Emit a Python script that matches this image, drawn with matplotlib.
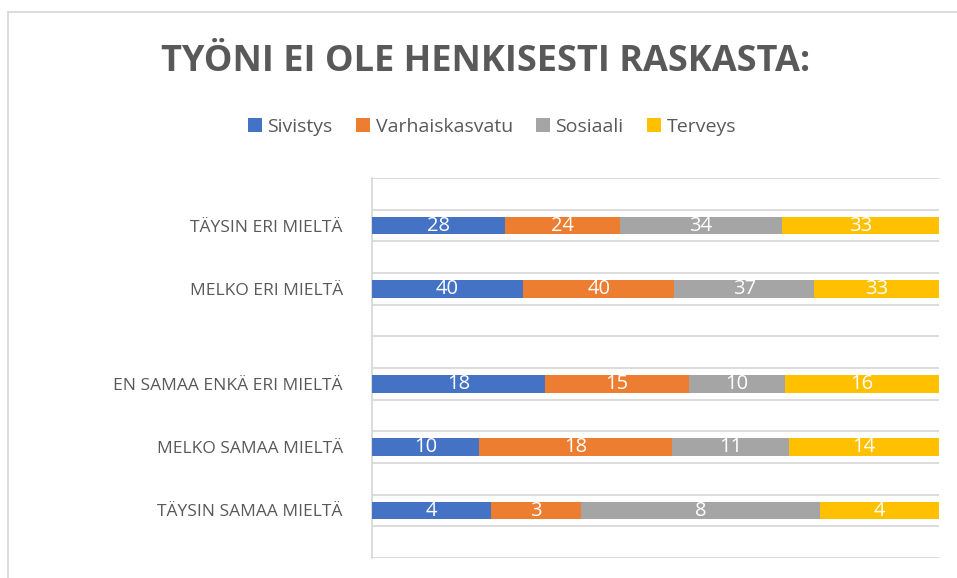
import numpy as np
import matplotlib.pyplot as plt
from matplotlib.lines import Line2D

# Data (counts per group, stacked to 100 % per row)
categories = ["TÄYSIN ERI MIELTÄ", "MELKO ERI MIELTÄ", "EN SAMAA ENKÄ ERI MIELTÄ",
              "MELKO SAMAA MIELTÄ", "TÄYSIN SAMAA MIELTÄ"]
series_names = ["Sivistys", "Varhaiskasvatu", "Sosiaali", "Terveys"]
sivistys = [28, 40, 18, 10, 4]
varhaiskasvatu = [24, 40, 15, 18, 3]
sosiaali = [34, 37, 10, 11, 8]
terveys = [33, 33, 16, 14, 4]
title = "TYÖNI EI OLE HENKISESTI RASKASTA:"

# Style
COLORS = ["#4472C4", "#ED7D31", "#A5A5A5", "#FFC000"]
TXT = "#595959"
GRID = "#D9D9D9"
Y_POS = [1.5, 3.5, 6.5, 8.5, 10.5]   # row slots (empty slot between rows 2 and 3)
BAR_H = 0.55
plt.rcParams['font.family'] = ['Open Sans', 'DejaVu Sans']

values = np.array([sivistys, varhaiskasvatu, sosiaali, terveys], dtype=float)
totals = values.sum(axis=0)
shares = values / totals

fig = plt.figure(figsize=(9.57, 5.78), dpi=100)
ax = fig.add_axes([372 / 957, 1 - 558 / 578, (939 - 372) / 957, (558 - 178) / 578])

# Stacked bars
left = np.zeros(len(categories))
for k in range(len(series_names)):
    ax.barh(Y_POS, shares[k], left=left, height=BAR_H, color=COLORS[k],
            label=series_names[k], zorder=3)
    for i in range(len(categories)):
        ax.text(left[i] + shares[k][i] / 2, Y_POS[i], str(int(values[k][i])),
                ha='center', va='center', color='white', fontsize=14.5, zorder=4)
    left += shares[k]

ax.set_xlim(0, 1)
ax.set_ylim(12, 0)
for g in range(13):
    ax.axhline(g, color=GRID, lw=1.3, zorder=1)

for s in ["top", "right", "bottom"]:
    ax.spines[s].set_visible(False)
ax.spines["left"].set_color(GRID)
ax.spines["left"].set_linewidth(1.3)
ax.set_xticks([])
ax.set_yticks(Y_POS)
ax.set_yticklabels(categories, fontsize=12.5, color=TXT)
ax.tick_params(axis='y', length=0, pad=21)

# Title and legend
fig.text(486 / 957, 1 - 62 / 578, title, ha='center', va='center',
         fontsize=26, fontweight='bold', color=TXT)
fig.legend(loc='center', bbox_to_anchor=(492 / 957, 1 - 127 / 578), ncol=4,
           frameon=False, fontsize=14, labelcolor=TXT, handlelength=0.7,
           handleheight=0.7, handletextpad=0.3, columnspacing=1.2)

# Outer chart frame (cut off on right and bottom)
fig.add_artist(Line2D([8 / 957, 1], [1 - 12 / 578] * 2, color=GRID, lw=1.3))
fig.add_artist(Line2D([8 / 957] * 2, [0, 1 - 12 / 578], color=GRID, lw=1.3))

fig.savefig("out.png", dpi=100)
